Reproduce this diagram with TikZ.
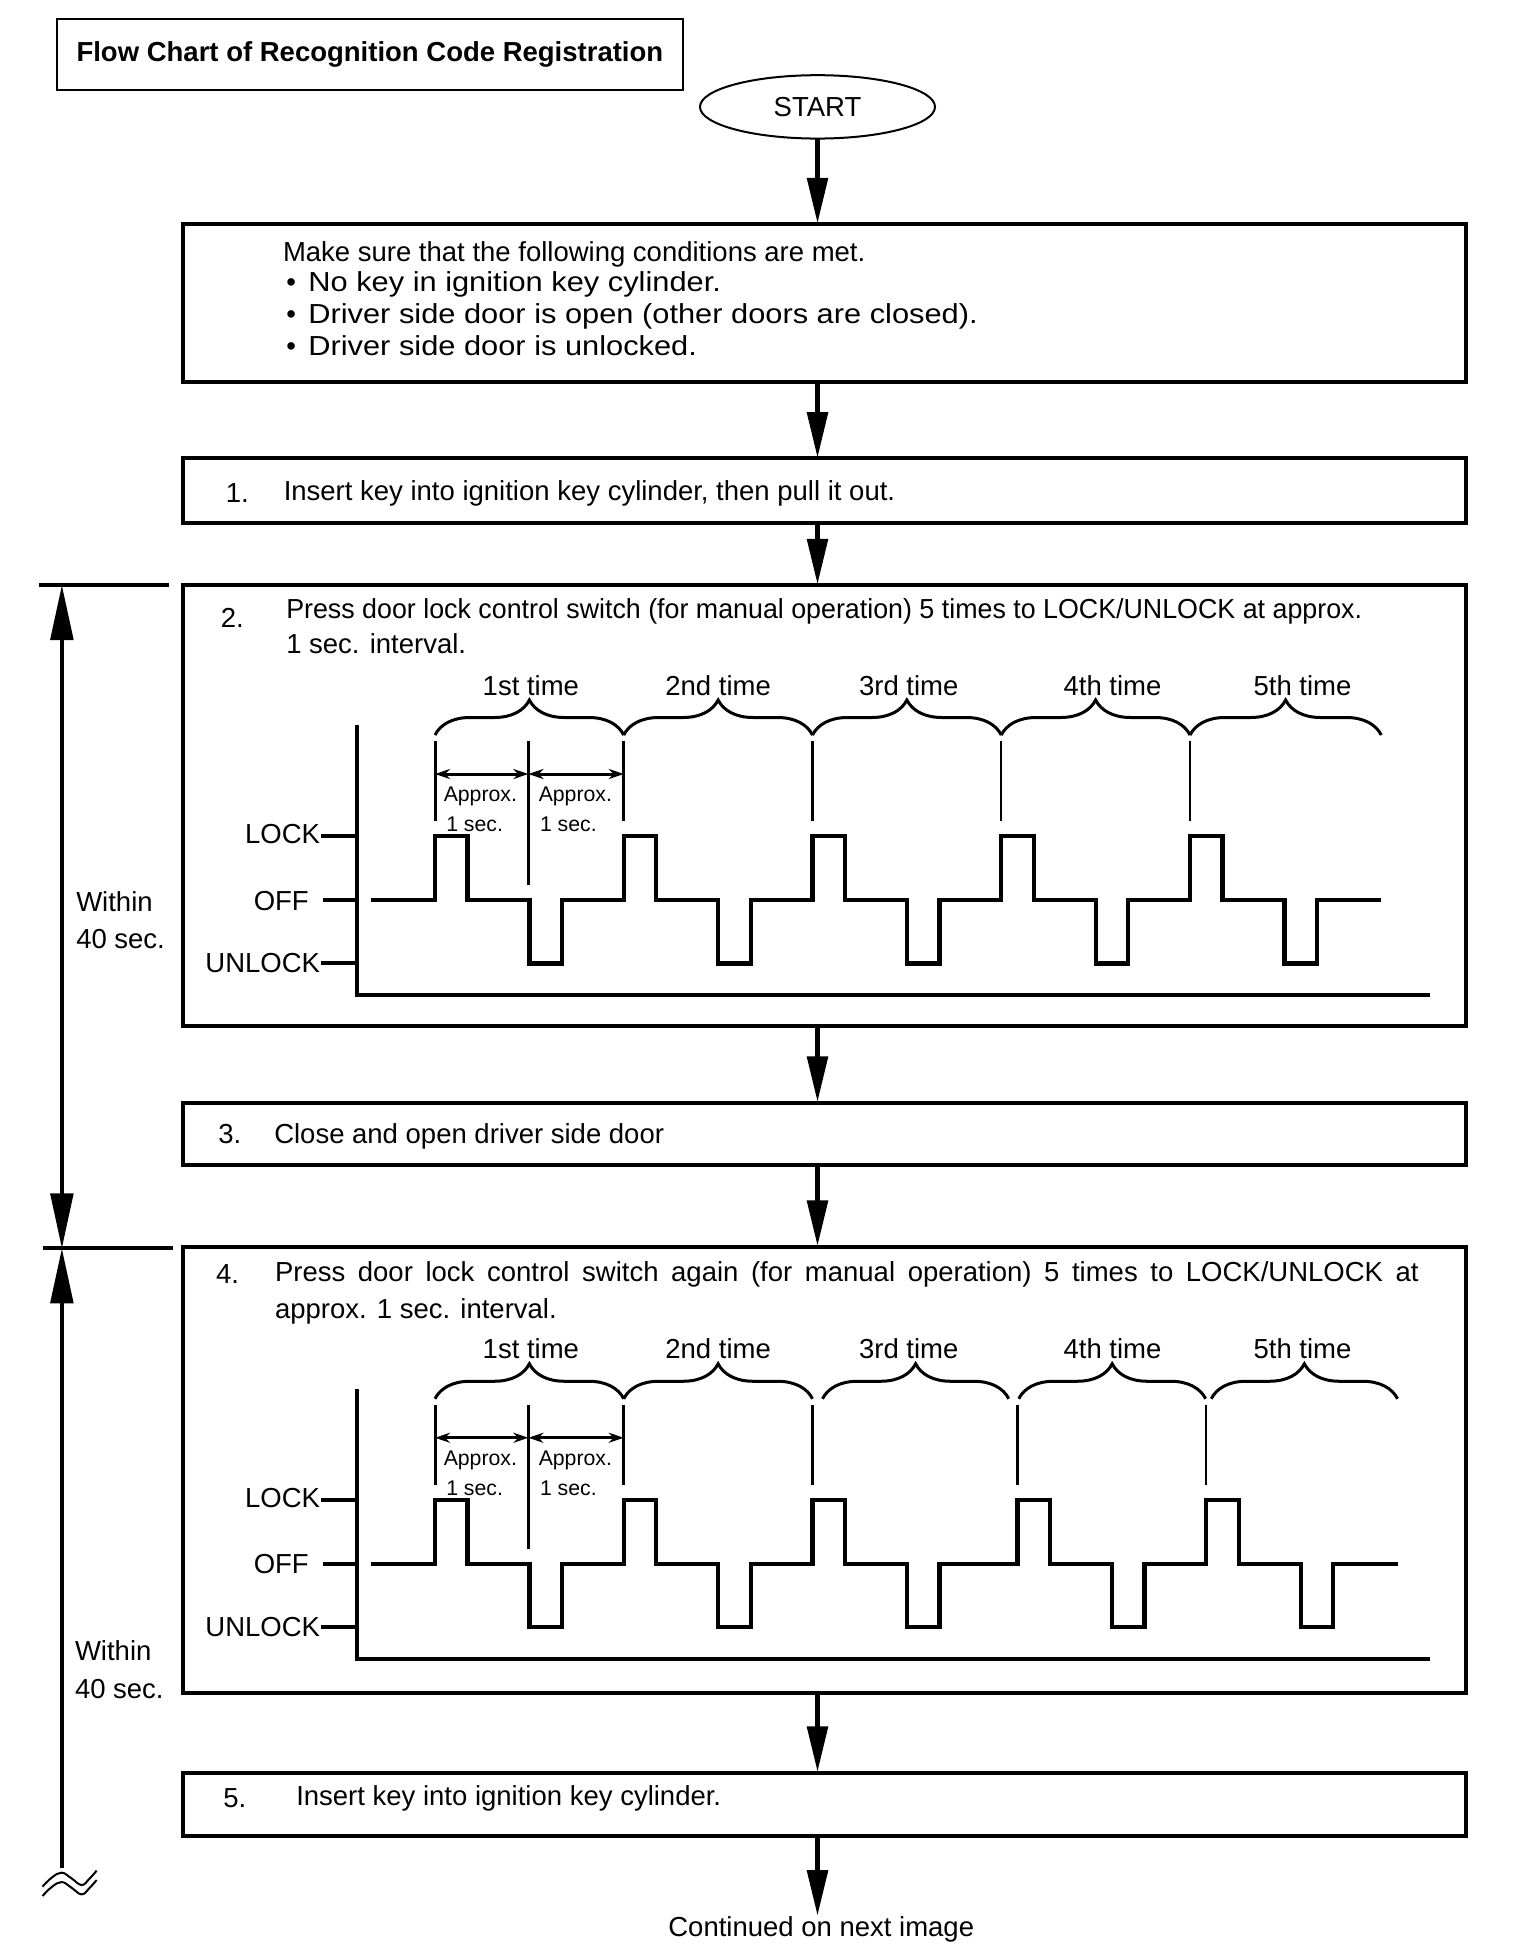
\documentclass[tikz,border=0pt]{standalone}
\usepackage{fontspec}
\setmainfont{Liberation Sans}
\newfontfamily\widefont[FakeStretch=1.12]{Liberation Sans}
\newfontfamily\narrowfont[FakeStretch=0.975]{Liberation Sans}
\usetikzlibrary{arrows.meta,decorations.pathreplacing,shapes.geometric}
\tikzset{
  every node/.style={inner sep=0pt, outer sep=0pt},
  base/.style={font=\fontsize{22}{26}\selectfont},
  small/.style={font=\fontsize{17}{20}\selectfont, anchor=base west},
  txt/.style={base, anchor=base west},
  wide/.style={font=\widefont\fontsize{22}{26}\selectfont, anchor=base west},
  narrow/.style={font=\narrowfont\fontsize{22}{26}\selectfont, anchor=base west},
  box/.style={draw, line width=3.2pt, minimum width=1026.6pt},
  flow/.style={line width=4.6pt, -{Triangle[length=37pt,width=16pt]}},
  axis/.style={line width=3.2pt},
  sig/.style={line width=3.4pt, line join=miter},
  mkthick/.style={line width=2.4pt},
  mkthin/.style={line width=1.8pt},
  approx/.style={line width=2.4pt, {Stealth[length=12pt,width=8pt]}-{Stealth[length=12pt,width=8pt]}},
  brc/.style={decorate, decoration={brace, amplitude=28pt}, line width=2.4pt},
  dimln/.style={line width=3.2pt},
  dimarrow/.style={line width=3.2pt}
}
\newcommand{\TimingChart}[9]{%
\begin{scope}[shift={(0,#1)}]
  \draw[axis] (285.4,580) -- (285.4,796) -- (1144,796);
  \draw[axis] (256.5,669) -- (285.4,669);
  \draw[axis] (258,720) -- (285.4,720);
  \draw[axis] (256.5,770.7) -- (285.4,770.7);
  \node[base, anchor=base east] (lk#1) at (256,675) {LOCK};
  \node[base, anchor=base east] (of#1) at (247,728) {OFF};
  \node[base, anchor=base east] (ul#1) at (256,778) {UNLOCK};
  \draw[sig] (297,720) foreach \px in {348,499,650,#2,#3}{ -- (\px,720) -- (\px,669) -- (\px+26,669) -- (\px+26,720) -- (\px+75.5,720) -- (\px+75.5,770.7) -- (\px+101.5,770.7) -- (\px+101.5,720)} -- (#4,720);
  \draw[mkthick] (348,593) -- (348,657);
  \draw[mkthick] (422.7,593) -- (422.7,708);
  \draw[mkthick] (499,593) -- (499,657);
  \draw[mkthin] (650,593) -- (650,657);
  \draw[mkthin] (#2,593) -- (#2,657);
  \draw[mkthin] (#3,593) -- (#3,657);
  \draw[approx] (348,619.2) -- (422.7,619.2);
  \draw[approx] (422.7,619.2) -- (499,619.2);
  \node[small] (apa#1) at (355,641) {Approx.};
  \node[small] (apb#1) at (431,641) {Approx.};
  \node[small] (sca#1) at (357,665) {1 sec.};
  \node[small] (scb#1) at (432,665) {1 sec.};
  \draw[brc] (348,588) -- (499,588);
  \draw[brc] (499,588) -- (650,588);
  \draw[brc] (#5,588) -- (#6,588);
  \draw[brc] (#7,588) -- (#8,588);
  \draw[brc] (#9,588) -- (#4,588);
  \node[base, anchor=base] (ta#1) at (424.7,556) {1st time};
  \node[base, anchor=base] (tb#1) at (574.5,556) {2nd time};
  \node[base, anchor=base] (tc#1) at (727,556) {3rd time};
  \node[base, anchor=base] (td#1) at (890,556) {4th time};
  \node[base, anchor=base] (te#1) at (1042,556) {5th time};
\end{scope}}
\begin{document}
\begin{tikzpicture}[x=1pt,y=-1pt]
\useasboundingbox (0,0) rectangle (1216,1563.2);
% title and start
\node[draw, line width=1.8pt, minimum width=501pt, minimum height=56.8pt, font=\bfseries\fontsize{22}{26}\selectfont] (title) at (295.9,43.6) {Flow Chart of Recognition Code Registration};
\node[ellipse, draw, line width=1.6pt, minimum width=188pt, minimum height=50.7pt, base] (start) at (654,85.5) {START};
% boxes
\node[box, minimum height=126.1pt] (boxA) at (659.7,242.25) {};
\node[box, minimum height=51.3pt] (box1) at (659.7,392.35) {};
\node[box, minimum height=353pt] (box2) at (659.7,644.5) {};
\node[box, minimum height=50pt] (box3) at (659.7,907) {};
\node[box, minimum height=357.3pt] (box4) at (659.7,1175.95) {};
\node[box, minimum height=50.5pt] (box5) at (659.7,1443.25) {};
% box texts
\node[txt] (a0) at (226.4,209) {Make sure that the following conditions are met.};
\node[txt] (bu1) at (229,233.3) {•};
\node[wide] (a1) at (246.7,233.3) {No key in ignition key cylinder.};
\node[txt] (bu2) at (229,258.7) {•};
\node[wide] (a2) at (246.7,258.7) {Driver side door is open (other doors are closed).};
\node[txt] (bu3) at (229,284) {•};
\node[wide] (a3) at (246.7,284) {Driver side door is unlocked.};
\node[txt] (n1) at (180.6,402) {1.};
\node[txt] (t1) at (227,400) {Insert key into ignition key cylinder, then pull it out.};
\node[txt] (n2) at (176.7,501.6) {2.};
\node[narrow] (t2a) at (229,494.6) {Press door lock control switch (for manual operation) 5 times to LOCK/UNLOCK at approx.};
\node[txt] (t2b) at (229,523) {1 sec. interval.};
\node[txt] (n3) at (174.7,915) {3.};
\node[txt] (t3) at (219.4,915) {Close and open driver side door};
\node[txt] (n4) at (172.8,1026.7) {4.};
\node[txt] (t4a) at (220,1025.3) {\makebox[915pt][s]{Press door lock control switch again (for manual operation) 5 times to LOCK/UNLOCK at}};
\node[txt] (t4b) at (220,1054.7) {approx. 1 sec. interval.};
\node[txt] (n5) at (178.6,1446) {5.};
\node[txt] (t5) at (237,1444.5) {Insert key into ignition key cylinder.};
\node[base, anchor=base] (cont) at (657,1549) {Continued on next image};
% flow arrows
\draw[flow] (start.south) -- (start.south |- boxA.north);
\draw[flow] (start |- boxA.south) -- (start |- box1.north);
\draw[flow] (start |- box1.south) -- (start |- box2.north);
\draw[flow] (start |- box2.south) -- (start |- box3.north);
\draw[flow] (start |- box3.south) -- (start |- box4.north);
\draw[flow] (start |- box4.south) -- (start |- box5.north);
\draw[flow] (start |- box5.south) -- (start |- cont.north);
% timing charts
\TimingChart{0}{801}{952}{1105}{650}{801}{801}{952}{952}
\TimingChart{531}{814}{965}{1118}{658}{807}{815}{964.5}{969}
% left dimensions
\coordinate (d1a) at (31,468);
\coordinate (d1b) at (135,468);
\coordinate (d2a) at (34,998.7);
\coordinate (d2b) at (138,998.7);
\coordinate (dtop) at (49.5,468);
\coordinate (dmid) at (49.5,998.7);
\coordinate (dend) at (49.5,1494);
\draw[dimln] (d1a) -- (d1b);
\draw[dimln] (d2a) -- (d2b);
\draw[dimarrow, {Triangle[length=44pt,width=18pt]}-{Triangle[length=44pt,width=18pt]}] (dtop) -- (dmid);
\draw[dimarrow, {Triangle[length=44pt,width=18pt]}-] (dmid) -- (dend);
\node[txt] (w1) at (61,729) {Within};
\node[txt] (w2) at (61,758.6) {40 sec.};
\node[txt] (w3) at (60,1328) {Within};
\node[txt] (w4) at (60,1358.7) {40 sec.};
% break symbol
\draw[line width=1.6pt] plot[smooth, tension=0.7] coordinates {(34,1509.3) (41.5,1502) (49.3,1498.1) (57,1502.5) (65.3,1508) (71.5,1503) (77.3,1496.5)};
\draw[line width=1.6pt] plot[smooth, tension=0.7] coordinates {(34,1516.8) (41.5,1509.5) (49.3,1505.6) (57,1510) (65.3,1515.5) (71.5,1510.5) (77.3,1504)};
\end{tikzpicture}
\end{document}
